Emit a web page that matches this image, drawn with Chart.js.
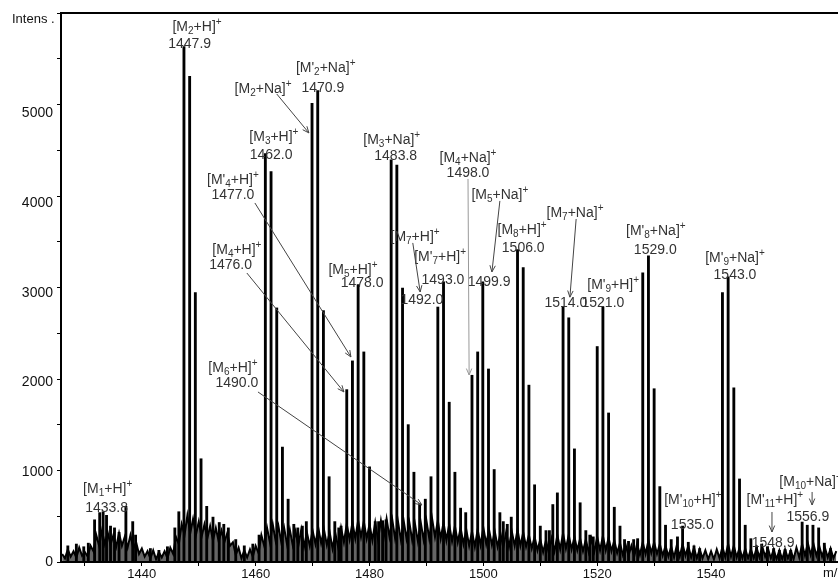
<!DOCTYPE html>
<html>
<head>
<meta charset="utf-8">
<script src="https://cdn.jsdelivr.net/npm/chart.js@4"></script>
<style>
  html, body { margin: 0; padding: 0; background: #fff; }
  #wrap { width: 838px; height: 579px; position: relative; }
</style>
</head>
<body>
<div id="wrap"><canvas id="spec"></canvas></div>
<script>
// peak sticks: m/z and intensity
const peakMz = [
  1427.0, 1428.5, 1429.8, 1430.6, 1431.7, 1432.6, 1433.2, 1433.8, 1434.5, 1435.2, 1436.0, 1437.2, 1438.4, 1438.9,
  1441.5, 1443.0, 1444.5, 1445.8, 1446.5, 1447.4, 1448.4, 1449.4, 1450.4, 1451.4, 1452.5, 1453.6, 1454.4, 1455.2,
  1456.5, 1458.0, 1459.5, 1460.6, 1461.7, 1462.7, 1463.7, 1464.7, 1465.7, 1466.7, 1467.4, 1468.2, 1468.9,
  1469.9, 1470.9, 1471.9, 1472.9, 1473.9, 1474.6, 1475.0, 1476.0, 1477.0, 1478.0, 1479.0, 1480.0,
  1481.0, 1481.6, 1482.3, 1482.9, 1483.8, 1484.8, 1485.8, 1486.8, 1487.8, 1488.8, 1489.8, 1490.8,
  1492.0, 1493.0, 1494.0, 1495.0, 1496.0, 1496.9, 1498.0, 1499.0, 1499.9, 1500.9, 1501.9, 1502.9, 1503.5, 1504.2, 1504.9,
  1506.0, 1507.0, 1508.0, 1509.0, 1510.0, 1511.0, 1511.6, 1512.2, 1513.0, 1514.0, 1515.0, 1516.0, 1517.0, 1518.0, 1518.7, 1519.3,
  1520.0, 1521.0, 1522.0, 1523.0, 1524.0, 1524.8, 1525.5, 1526.4, 1527.1,
  1528.0, 1529.0, 1530.0, 1531.0, 1532.0, 1533.0, 1534.1, 1535.0, 1536.0, 1537.0, 1538.0,
  1542.0, 1543.0, 1544.0, 1545.0, 1546.0, 1547.0, 1548.0, 1548.9, 1549.9, 1551.0, 1552.0, 1553.0, 1554.0,
  1556.0, 1556.9, 1557.9, 1558.9, 1559.9, 1561.0
];
const peakInt = [
  180, 200, 170, 210, 470, 550, 560, 520, 400, 380, 330, 620, 450, 300,
  150, 130, 170, 380, 560, 5740, 5410, 3000, 1150, 620, 500, 440, 420, 380,
  250, 180, 200, 300, 4550, 4350, 2830, 1280, 700, 420, 380, 400, 450,
  5110, 5250, 2800, 950, 450, 380, 400, 1920, 2240, 3090, 2340, 1060,
  450, 450, 460, 470, 4480, 4420, 3050, 1530, 1000, 650, 700, 950,
  2840, 3120, 1780, 1000, 600, 550, 2080, 2340, 3120, 2150, 1030, 550, 450, 420, 500,
  3480, 3280, 1970, 860, 400, 350, 350, 640, 770, 2840, 2720, 1260, 660, 350, 300, 280,
  2400, 2840, 1660, 610, 400, 250, 230, 250, 260,
  3220, 3410, 1930, 840, 410, 250, 280, 400, 220, 180, 150,
  3000, 3175, 1940, 925, 410, 260, 180, 200, 170, 150, 130, 140, 130,
  445, 410, 410, 380, 210, 150
];

// baseline noise band, one reading every 0.5 m/z from 1426
const noiseStart = 1426;
const noiseStep = 0.5;
const noiseInt = [
  90, 40, 140, 60, 120, 50, 160, 70, 110, 60,
  180, 120, 300, 180, 350, 200, 330, 190, 300, 170,
  320, 180, 280, 160, 300, 150, 220, 90, 150, 60,
  120, 40, 130, 30, 110, 50, 120, 40, 160, 90,
  280, 200, 420, 300, 520, 320, 480, 300, 450, 280,
  420, 260, 400, 240, 380, 230, 350, 220, 320, 180,
  220, 80, 160, 40, 130, 50, 140, 60, 180, 100,
  300, 180, 380, 220, 420, 240, 400, 220, 380, 200,
  360, 190, 340, 180, 360, 170, 330, 180, 350, 200,
  380, 210, 360, 190, 330, 150, 320, 160, 380, 220,
  420, 250, 440, 260, 460, 280, 450, 260, 420, 240,
  440, 250, 460, 270, 480, 280, 470, 260, 450, 250,
  460, 260, 440, 240, 420, 230, 440, 250, 460, 260,
  480, 280, 460, 260, 440, 240, 420, 230, 400, 220,
  380, 200, 360, 180, 340, 170, 360, 190, 380, 200,
  360, 190, 340, 170, 320, 160, 330, 170, 340, 180,
  360, 180, 330, 170, 300, 150, 280, 130, 250, 110,
  240, 100, 260, 120, 300, 140, 320, 150, 300, 140,
  280, 130, 260, 120, 250, 110, 260, 120, 280, 130,
  290, 130, 270, 120, 240, 100, 210, 80, 190, 70,
  180, 60, 200, 80, 220, 90, 240, 100, 220, 90,
  200, 70, 180, 60, 170, 50, 190, 60, 200, 70,
  180, 50, 160, 40, 140, 40, 130, 30, 120, 30,
  140, 40, 170, 50, 200, 60, 180, 50, 160, 40,
  150, 40, 140, 40, 160, 50, 170, 60, 150, 40,
  140, 30, 130, 30, 140, 40, 130, 30, 160, 50,
  200, 70, 210, 80, 200, 70, 180, 60, 160, 50,
  150, 40, 120
];

const xLabelTicks = [1440, 1460, 1480, 1500, 1520, 1540];
const yLabelTicks = [0, 1000, 2000, 3000, 4000, 5000];

// peak annotations: text (_{} sub, ^{} sup), anchored at m/z, intensity
const notes = [
  ['[M_{1}+H]^{+}', 1434.0, 813], ['1433.8', 1433.8, 602],
  ['[M_{2}+H]^{+}', 1449.7, 5960], ['1447.9', 1448.4, 5770],
  ['[M_{2}+Na]^{+}', 1461.3, 5269],
  ["[M'_{2}+Na]^{+}", 1472.3, 5503], ['1470.9', 1471.8, 5280],
  ['[M_{3}+H]^{+}', 1463.2, 4734], ['1462.0', 1462.7, 4534],
  ["[M'_{4}+H]^{+}", 1456.0, 4255], ['1477.0', 1456.0, 4088],
  ['[M_{4}+H]^{+}', 1456.7, 3476], ['1476.0', 1455.6, 3309],
  ['[M_{6}+H]^{+}', 1456.0, 2161], ['1490.0', 1456.7, 1994],
  ['[M_{5}+H]^{+}', 1477.1, 3253], ['1478.0', 1478.7, 3108],
  ['[M_{3}+Na]^{+}', 1483.9, 4701], ['1483.8', 1484.6, 4523],
  ['[M_{4}+Na]^{+}', 1497.3, 4500], ['1498.0', 1497.3, 4333],
  ['[M_{5}+Na]^{+}', 1502.9, 4088], ['1499.9', 1501.0, 3119],
  ['[M_{7}+H]^{+}', 1488.0, 3621], ['1492.0', 1489.2, 2919],
  ["[M'_{7}+H]^{+}", 1492.4, 3398], ['1493.0', 1492.9, 3141],
  ['[M_{8}+H]^{+}', 1506.8, 3698], ['1506.0', 1507.0, 3498],
  ['[M_{7}+Na]^{+}', 1516.1, 3888], ['1514.0', 1514.5, 2885],
  ["[M'_{9}+H]^{+}", 1522.8, 3086], ['1521.0', 1521.0, 2885],
  ["[M'_{8}+Na]^{+}", 1530.3, 3687], ['1529.0', 1530.2, 3476],
  ["[M'_{9}+Na]^{+}", 1544.2, 3387], ['1543.0', 1544.2, 3197],
  ["[M'_{10}+H]^{+}", 1536.8, 691], ['1535.0', 1536.7, 412],
  ["[M'_{11}+H]^{+}", 1551.2, 691], ['1548.9', 1550.9, 212],
  ['[M_{10}+Na]^{+}', 1552.0, 891, 'left'], ['1556.9', 1557.0, 501]
];

// arrows from label to peak: [fromMz, fromInt, toMz, toInt, colour]
const arrows = [
  [1463.7, 5213, 1469.35, 4779, '#444'],
  [1459.86, 3999, 1476.73, 2284, '#444'],
  [1458.45, 3219, 1475.5, 1894, '#444'],
  [1460.4, 1894, 1489.2, 635, '#444'],
  [1497.3, 4267, 1497.5, 2083, '#999'],
  [1502.9, 4022, 1501.5, 3231, '#444'],
  [1487.6, 3554, 1488.9, 3008, '#444'],
  [1516.3, 3821, 1515.2, 2950, '#444'],
  [1550.7, 557, 1550.7, 334, '#444'],
  [1557.75, 780, 1557.75, 635, '#444']
];

const FONT = '"Liberation Sans", Arial, sans-serif';

function richText(ctx, str, x, y, align) {
  const parts = [];
  const re = /([_^])\{([^}]*)\}|([^_^]+)/g;
  let m;
  while ((m = re.exec(str))) {
    if (m[3]) parts.push({ t: m[3], k: 0 });
    else parts.push({ t: m[2], k: m[1] === '_' ? -1 : 1 });
  }
  let w = 0;
  parts.forEach(p => {
    ctx.font = (p.k ? '10px ' : '14px ') + FONT;
    p.w = ctx.measureText(p.t).width;
    w += p.w;
  });
  let cx = align === 'left' ? x : x - w / 2;
  parts.forEach(p => {
    ctx.font = (p.k ? '10px ' : '14px ') + FONT;
    ctx.fillText(p.t, cx, y + (p.k < 0 ? 4 : p.k > 0 ? -5 : 0));
    cx += p.w;
  });
}

function arrow(ctx, x1, y1, x2, y2, color) {
  ctx.strokeStyle = color;
  ctx.lineWidth = 1;
  ctx.beginPath(); ctx.moveTo(x1, y1); ctx.lineTo(x2, y2); ctx.stroke();
  const a = Math.atan2(y2 - y1, x2 - x1), L = 7;
  ctx.beginPath();
  ctx.moveTo(x2 - L * Math.cos(a - 0.4), y2 - L * Math.sin(a - 0.4));
  ctx.lineTo(x2, y2);
  ctx.lineTo(x2 - L * Math.cos(a + 0.4), y2 - L * Math.sin(a + 0.4));
  ctx.stroke();
}

const isLabel = (list, v) => list.some(t => Math.abs(t - v) < 1e-6);

const annotate = {
  id: 'annotate',
  afterDraw(chart) {
    const { ctx, chartArea, scales: { x, y } } = chart;
    ctx.save();
    // top frame
    ctx.strokeStyle = '#000';
    ctx.lineWidth = 2;
    ctx.beginPath();
    ctx.moveTo(chartArea.left - 1, chartArea.top);
    ctx.lineTo(chartArea.right, chartArea.top);
    ctx.stroke();

    ctx.fillStyle = '#111';
    ctx.textBaseline = 'middle';
    ctx.font = '13px ' + FONT;
    ctx.fillText('Intens .', 12, 19);
    ctx.fillText('m/z', 823, 573);

    // y tick labels
    ctx.textAlign = 'right';
    ctx.font = '14px ' + FONT;
    yLabelTicks.forEach(v => ctx.fillText(String(v), chartArea.left - 8, y.getPixelForValue(v)));
    ctx.textAlign = 'left';

    ctx.fillStyle = '#333';
    notes.forEach(([t, mz, v, align]) => richText(ctx, t, x.getPixelForValue(mz), y.getPixelForValue(v), align));
    arrows.forEach(([m1, v1, m2, v2, c]) =>
      arrow(ctx, x.getPixelForValue(m1), y.getPixelForValue(v1), x.getPixelForValue(m2), y.getPixelForValue(v2), c));
    ctx.restore();
  }
};

new Chart(document.getElementById('spec'), {
  type: 'bar',
  data: {
    datasets: [
      {
        type: 'line',
        data: noiseInt.map((v, i) => ({ x: noiseStart + i * noiseStep, y: v })),
        borderColor: '#000',
        borderWidth: 2,
        backgroundColor: 'rgba(0,0,0,0.6)',
        fill: 'origin',
        pointRadius: 0,
        tension: 0,
        order: 2
      },
      {
        type: 'bar',
        data: peakMz.map((m, i) => ({ x: m, y: peakInt[i] })),
        backgroundColor: '#000',
        barThickness: 2.2,
        order: 1
      }
    ]
  },
  options: {
    responsive: true,
    maintainAspectRatio: false,
    animation: false,
    layout: { padding: { top: 13, right: 0, left: 0, bottom: 0 } },
    plugins: { legend: { display: false }, tooltip: { enabled: false } },
    scales: {
      x: {
        type: 'linear', min: 1425.8, max: 1562.3, offset: false,
        grid: { drawOnChartArea: false, drawTicks: true, tickLength: 4, color: '#000', offset: false },
        border: { color: '#000', width: 2 },
        ticks: {
          stepSize: 10, includeBounds: false, autoSkip: false, maxTicksLimit: 100, maxRotation: 0, padding: 1,
          color: '#111', font: { family: FONT, size: 13 },
          callback: v => isLabel(xLabelTicks, v) ? String(Math.round(v)) : ''
        },
        afterBuildTicks: s => { s.ticks = s.ticks.filter(t => t.value >= s.min && t.value <= s.max); },
        afterFit: s => { s.height = 17; }
      },
      y: {
        min: 0, max: 6115,
        grid: { drawOnChartArea: false, drawTicks: true, tickLength: 4, color: '#000' },
        border: { color: '#000', width: 2 },
        ticks: {
          stepSize: 500, includeBounds: false, autoSkip: false, maxTicksLimit: 100,
          callback: () => ''
        },
        afterBuildTicks: s => { s.ticks = s.ticks.filter(t => t.value >= s.min && t.value <= s.max); },
        afterFit: s => { s.width = 61; }
      }
    }
  },
  plugins: [annotate]
});
</script>
</body>
</html>
